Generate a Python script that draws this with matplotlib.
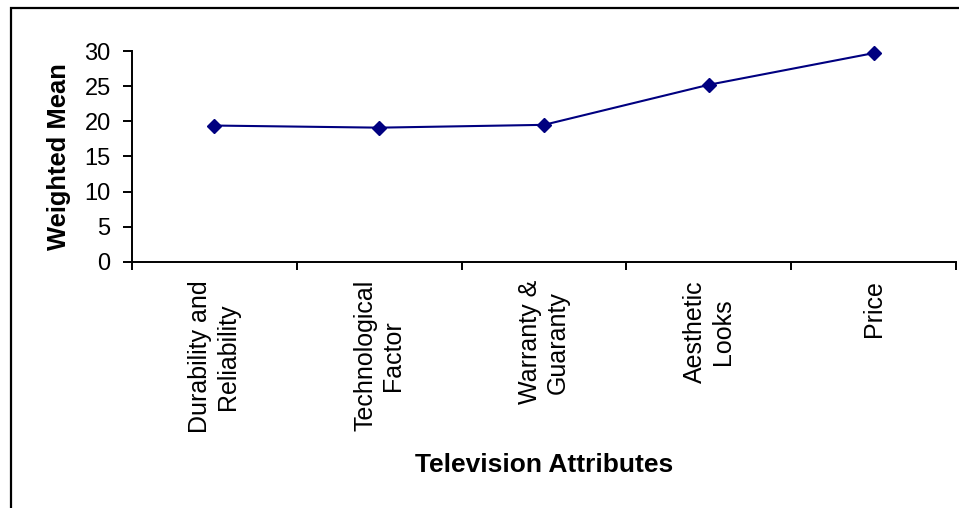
import numpy as np
import matplotlib
matplotlib.use('agg')
import matplotlib.pyplot as plt
from matplotlib.patches import Rectangle

attributes = ['Durability and\nReliability', 'Technological\nFactor',
              'Warranty &\nGuaranty', 'Aesthetic\nLooks', 'Price']
weighted_mean = [19.4, 19.1, 19.5, 25.2, 29.7]
y_ticks = [0, 5, 10, 15, 20, 25, 30]

plt.rcParams['font.family'] = ['Liberation Sans', 'DejaVu Sans']

fig = plt.figure(figsize=(9.59, 5.08), dpi=100)
ax = fig.add_axes([0.1376, 0.4843, 0.8594, 0.4153])

x = np.arange(len(attributes))
ax.plot(x, weighted_mean, color='#000080', lw=1.5, marker='D',
        markersize=7.5, markerfacecolor='#000080', markeredgecolor='#000080',
        clip_on=False)

ax.set_xlim(-0.5, len(attributes) - 0.5)
ax.set_ylim(0, 30)
ax.set_yticks(y_ticks)

# tick marks on category boundaries, labels in the middle
ax.set_xticks(np.arange(len(attributes) + 1) - 0.5)
ax.set_xticklabels([])
ax.set_xticks(x, minor=True)
ax.set_xticklabels(attributes, minor=True, rotation=90, ha='center',
                   va='top', multialignment='center', fontsize=18)
ax.tick_params(axis='x', which='minor', length=0, pad=13)
ax.tick_params(axis='x', which='major', length=6, width=1.4, direction='out')
ax.tick_params(axis='y', length=6.3, width=1.4, direction='out',
               labelsize=17, pad=9)

for side in ['top', 'right']:
    ax.spines[side].set_visible(False)
for side in ['left', 'bottom']:
    ax.spines[side].set_linewidth(1.4)

ax.set_ylabel('Weighted Mean', fontsize=18.4, fontweight='bold', labelpad=10)
ax.set_xlabel('Television Attributes', fontsize=19, fontweight='bold',
              labelpad=15)

# outer chart frame
frame = Rectangle((11 / 959, -0.05), 1.1, 1 - 8 / 508 + 0.05,
                  transform=fig.transFigure, fill=False, lw=1.6,
                  edgecolor='black', clip_on=False)
fig.patches.append(frame)

fig.savefig('out.png', dpi=100)
